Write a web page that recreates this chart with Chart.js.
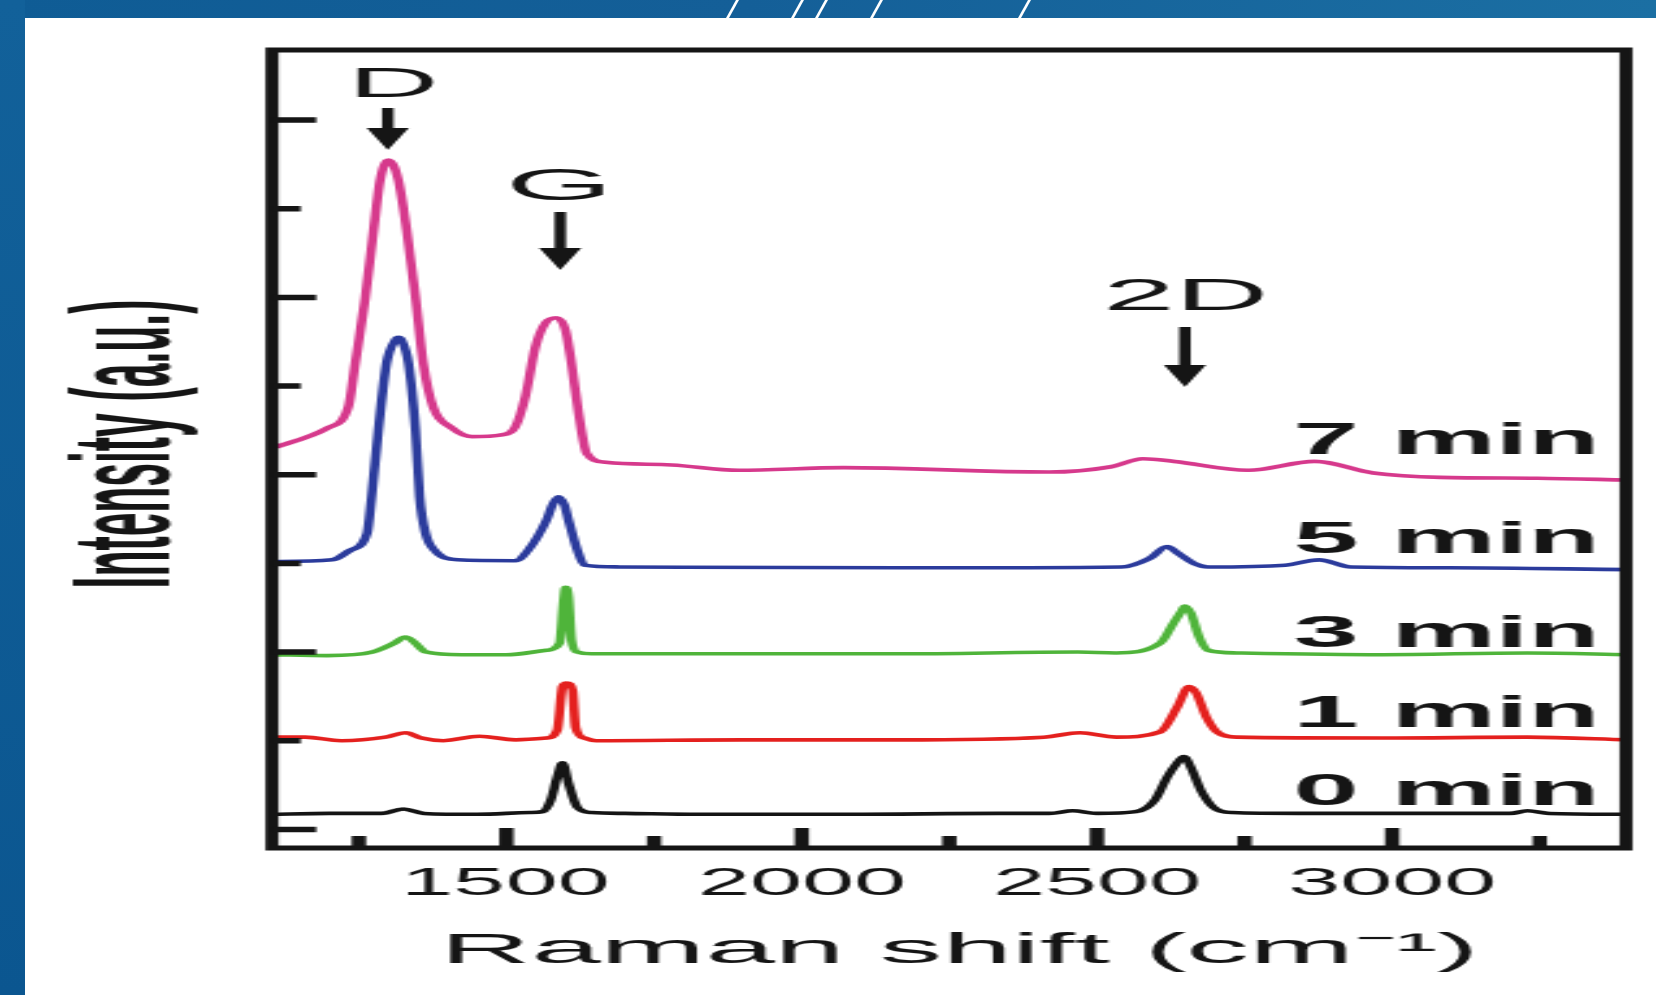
<!DOCTYPE html>
<html>
<head>
<meta charset="utf-8">
<script src="https://cdn.jsdelivr.net/npm/chart.js@4.4.1/dist/chart.umd.min.js"></script>
<style>
html,body{margin:0;padding:0;width:1656px;height:995px;overflow:hidden;}
body{position:relative;background:linear-gradient(90deg,#0f5c95 0%,#145f98 45%,#1b6fa3 100%);}
#leftstrip{position:absolute;left:0;top:0;width:25px;height:995px;background:linear-gradient(180deg,#12619a 0%,#0b5690 100%);}
#panel{position:absolute;left:25px;top:18px;width:1631px;height:977px;background:#ffffff;}
.slash{position:absolute;top:0;height:18px;width:3px;background:#ffffff;transform:skewX(-29deg);}
#wrap{position:absolute;left:0;top:0;width:637px;height:995px;transform:scaleX(2.599686);transform-origin:0 0;}
#c{display:block;}
</style>
</head>
<body>
<div id="leftstrip"></div>
<div class="slash" style="left:731px"></div>
<div class="slash" style="left:796px"></div>
<div class="slash" style="left:820px"></div>
<div class="slash" style="left:875px"></div>
<div class="slash" style="left:1023px"></div>
<div id="panel"></div>
<div id="wrap"><canvas id="c" width="637" height="995" style="width:637px;height:995px"></canvas></div>
<script>
// ---------------- data ----------------
const seriesLabels = ['0 min', '1 min', '3 min', '5 min', '7 min'];
const seriesColors = ['#141414', '#e4201e', '#4fb43a', '#2b3b9c', '#d6398c'];

// Raman shift (cm^-1) and plotted intensity (a.u., vertically offset as in the figure)
const shift0 = [1100, 1200, 1290, 1325, 1360, 1450, 1540, 1561, 1575, 1586, 1595, 1605, 1620, 1644, 1700, 1825, 2080, 2334, 2420, 2459, 2500, 2566, 2598, 2619, 2636, 2647, 2659, 2676, 2697, 2729, 2842, 3012, 3200, 3229, 3266, 3400];
const int0   = [0.17, 0.18, 0.18, 0.23, 0.18, 0.17, 0.19, 0.20, 0.33, 0.59, 0.75, 0.52, 0.25, 0.19, 0.18, 0.17, 0.17, 0.18, 0.18, 0.21, 0.18, 0.20, 0.33, 0.59, 0.75, 0.82, 0.70, 0.44, 0.25, 0.19, 0.18, 0.18, 0.18, 0.21, 0.18, 0.17];

const shift1 = [1100, 1159, 1220, 1295, 1329, 1356, 1393, 1454, 1515, 1568, 1586, 1595, 1602, 1612, 1617, 1632, 1651, 1900, 2164, 2410, 2471, 2532, 2607, 2636, 2656, 2668, 2685, 2705, 2737, 2983, 3229, 3400];
const int1   = [1.04, 1.04, 1.00, 1.04, 1.09, 1.03, 1.00, 1.05, 1.01, 1.03, 1.12, 1.61, 1.65, 1.57, 1.15, 1.03, 1.00, 1.01, 1.01, 1.04, 1.09, 1.04, 1.10, 1.38, 1.61, 1.54, 1.27, 1.09, 1.04, 1.03, 1.04, 1.01];

const shift3 = [1100, 1197, 1273, 1310, 1329, 1344, 1364, 1424, 1500, 1568, 1590, 1597, 1600, 1605, 1610, 1620, 1644, 1900, 2164, 2468, 2532, 2607, 2630, 2644, 2649, 2659, 2673, 2688, 2737, 2983, 3229, 3400];
const int3   = [1.97, 1.96, 2.00, 2.10, 2.17, 2.11, 2.00, 1.97, 1.97, 2.02, 2.10, 2.59, 2.73, 2.62, 2.14, 2.00, 1.98, 1.98, 1.98, 2.00, 1.99, 2.10, 2.33, 2.47, 2.52, 2.44, 2.17, 2.02, 1.99, 1.97, 1.99, 1.97];

const shift5 = [1100, 1205, 1236, 1264, 1271, 1283, 1297, 1312, 1317, 1322, 1334, 1346, 1353, 1363, 1378, 1417, 1515, 1537, 1568, 1578, 1588, 1598, 1605, 1620, 1632, 1690, 2164, 2541, 2590, 2619, 2636, 2664, 2688, 2819, 2876, 2930, 3097, 3400];
const int5   = [3.02, 3.04, 3.15, 3.34, 3.71, 4.50, 5.26, 5.52, 5.55, 5.52, 5.26, 4.50, 3.75, 3.34, 3.15, 3.04, 3.03, 3.15, 3.49, 3.66, 3.75, 3.66, 3.49, 3.15, 2.98, 2.96, 2.95, 2.96, 3.06, 3.19, 3.12, 3.00, 2.96, 2.98, 3.04, 2.96, 2.95, 2.93];

const shift7 = [1100, 1198, 1232, 1244, 1261, 1275, 1286, 1300, 1317, 1331, 1346, 1359, 1376, 1407, 1441, 1492, 1515, 1532, 1549, 1566, 1585, 1600, 1610, 1622, 1636, 1668, 1780, 1893, 2071, 2419, 2524, 2578, 2631, 2756, 2869, 2968, 3081, 3246, 3400];
const int7   = [4.29, 4.53, 4.76, 5.26, 6.00, 6.76, 7.32, 7.55, 7.32, 6.76, 6.00, 5.26, 4.76, 4.53, 4.43, 4.45, 4.54, 4.88, 5.44, 5.71, 5.77, 5.63, 5.26, 4.70, 4.24, 4.14, 4.11, 4.05, 4.08, 4.03, 4.09, 4.18, 4.15, 4.05, 4.15, 4.02, 3.97, 3.96, 3.94];

const xMajorTicks = [1500, 2000, 2500, 3000];
const xMinorTicks = [1250, 1750, 2250, 2750, 3250];
const xTickLabels = ['1500', '2000', '2500', '3000'];
const yTicks = [0, 1, 2, 3, 4, 5, 6, 7, 8];
const peakNames = ['D', 'G', '2D'];
const peakShifts = [1299, 1591, 2649];
const xTitle = 'Raman shift (cm\u207B\u00B9)';
const yTitle = 'Intensity (a.u.)';

// ---------------- drawing ----------------
const S = 1656 / 637;           // horizontal stretch of the figure
const INK = '#151515';
const FONT = "'Liberation Sans', Arial, sans-serif";

const shifts = [shift0, shift1, shift3, shift5, shift7];
const ints = [int0, int1, int3, int5, int7];

const datasets = shifts.map((xs, k) => ({
  label: seriesLabels[k],
  data: xs.map((x, i) => ({ x: x, y: ints[k][i] })),
  borderColor: seriesColors[k],
  backgroundColor: seriesColors[k],
  borderWidth: 3.6,
  pointRadius: 0,
  fill: false,
  cubicInterpolationMode: 'monotone'
}));

function inkBox(ctx, text, font) {
  ctx.font = font;
  ctx.textAlign = 'left';
  ctx.textBaseline = 'alphabetic';
  const m = ctx.measureText(text);
  return { l: m.actualBoundingBoxLeft, w: m.actualBoundingBoxLeft + m.actualBoundingBoxRight };
}
function drawInk(ctx, text, font, inkLeft, baseline, sx) {
  const b = inkBox(ctx, text, font);
  ctx.save();
  ctx.translate(inkLeft, baseline);
  ctx.scale(sx, 1);
  ctx.fillText(text, b.l, 0);
  ctx.restore();
}
function fitInk(ctx, text, font, inkLeft, inkRight, baseline) {
  const b = inkBox(ctx, text, font);
  drawInk(ctx, text, font, inkLeft, baseline, (inkRight - inkLeft) / b.w);
}

const decoPlugin = {
  id: 'deco',
  afterDatasetsDraw(chart) {
    const ctx = chart.ctx, xs = chart.scales.x, ys = chart.scales.y, a = chart.chartArea;
    ctx.save();
    ctx.strokeStyle = INK;
    ctx.fillStyle = INK;
    ctx.lineCap = 'butt';
    ctx.lineJoin = 'miter';
    // frame
    ctx.lineWidth = 5;
    ctx.strokeRect(a.left, a.top, a.right - a.left, a.bottom - a.top);
    // inward ticks
    ctx.lineWidth = 5.5;
    ctx.beginPath();
    yTicks.forEach((v, i) => {
      const y = ys.getPixelForValue(v);
      ctx.moveTo(a.left, y);
      ctx.lineTo(a.left + (i % 2 === 0 ? 17 : 11), y);
    });
    xMajorTicks.forEach(v => {
      const x = xs.getPixelForValue(v);
      ctx.moveTo(x, a.bottom);
      ctx.lineTo(x, a.bottom - 20);
    });
    xMinorTicks.forEach(v => {
      const x = xs.getPixelForValue(v);
      ctx.moveTo(x, a.bottom);
      ctx.lineTo(x, a.bottom - 12);
    });
    ctx.stroke();

    // x tick labels
    const tf = '38px ' + FONT;
    const tsx = (203 / S) / inkBox(ctx, '2000', tf).w;
    xMajorTicks.forEach((v, i) => {
      const cx = xs.getPixelForValue(v);
      const w = inkBox(ctx, xTickLabels[i], tf).w * tsx;
      drawInk(ctx, xTickLabels[i], tf, cx - w / 2, 895, tsx);
    });

    // axis titles
    fitInk(ctx, xTitle, '42px ' + FONT, 449 / S, 1473 / S, 963);
    const yf = 'bold 53px ' + FONT;
    const yb = inkBox(ctx, yTitle, yf);
    const ysx = 285 / yb.w;
    ctx.save();
    ctx.font = yf;
    ctx.translate(170 / S, 443.5);
    ctx.rotate(-Math.PI / 2);
    ctx.scale(ysx, 1);
    ctx.textAlign = 'left';
    ctx.fillText(yTitle, -yb.w / 2 + yb.l, 0);
    ctx.restore();

    // peak annotations: label + down arrow
    const ann = [
      { dx: 8, base: 97, width: 78, font: '42px ', shaftTop: 108, headTop: 128, tip: 150 },
      { dx: -3, base: 200, width: 91, font: '44px ', shaftTop: 212, headTop: 248, tip: 270 },
      { dx: 1, base: 310, width: 154, font: '44px ', shaftTop: 327, headTop: 365, tip: 387 }
    ];
    peakNames.forEach((name, i) => {
      const p = ann[i];
      const x = xs.getPixelForValue(peakShifts[i]);
      const lc = x + p.dx / S;
      fitInk(ctx, name, p.font + FONT, lc - p.width / 2 / S, lc + p.width / 2 / S, p.base);
      ctx.lineWidth = 4.4;
      ctx.beginPath();
      ctx.moveTo(x, p.shaftTop);
      ctx.lineTo(x, p.headTop + 2);
      ctx.stroke();
      ctx.beginPath();
      ctx.moveTo(x - 21 / S, p.headTop);
      ctx.lineTo(x + 21 / S, p.headTop);
      ctx.lineTo(x, p.tip);
      ctx.closePath();
      ctx.fill();
    });

    // series labels
    const sf = 'bold 44px ' + FONT;
    const ssx = (299 / S) / inkBox(ctx, '5 min', sf).w;
    const baselines = [805, 727, 647, 553, 454];
    seriesLabels.forEach((lab, k) => {
      const w = inkBox(ctx, lab, sf).w * ssx;
      drawInk(ctx, lab, sf, 1595 / S - w, baselines[k], ssx);
    });
    ctx.restore();
  }
};

new Chart(document.getElementById('c'), {
  type: 'line',
  data: { datasets: datasets },
  options: {
    responsive: false,
    animation: false,
    devicePixelRatio: 1,
    layout: { padding: { left: 272 / S, right: 637 - 1626 / S, top: 50, bottom: 995 - 848 } },
    scales: {
      x: { type: 'linear', min: 1103, max: 3396, display: false },
      y: { type: 'linear', min: -0.21, max: 8.79, display: false }
    },
    plugins: { legend: { display: false }, tooltip: { enabled: false } },
    elements: { point: { radius: 0 } }
  },
  plugins: [decoPlugin]
});
</script>
</body>
</html>
